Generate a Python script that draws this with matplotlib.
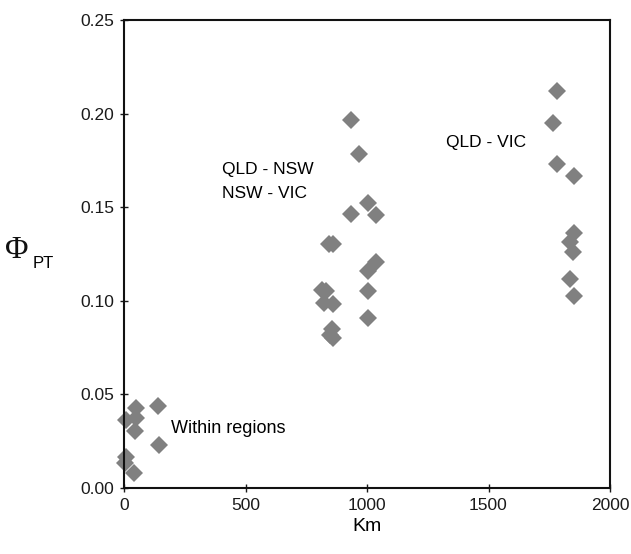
import matplotlib.pyplot as plt

# Distancia (km) vs Phi_PT entre pares de poblaciones
km_within = [10, 48, 50, 45, 8, 6, 40, 140, 142]
phi_within = [0.0363, 0.0429, 0.0374, 0.0304, 0.0167, 0.0133, 0.0082, 0.0438, 0.0230]

km_mid = [933, 966, 1004, 933, 1037, 845, 862, 1037, 1004, 1004, 1004,
          815, 830, 823, 859, 855, 848, 859]
phi_mid = [0.1966, 0.1783, 0.1524, 0.1462, 0.1458, 0.1302, 0.1305, 0.1209, 0.1161, 0.1052, 0.0906,
           0.1058, 0.1050, 0.0987, 0.0983, 0.0848, 0.0817, 0.0800]

km_far = [1780, 1764, 1780, 1852, 1852, 1835, 1849, 1835, 1852]
phi_far = [0.2122, 0.1948, 0.1731, 0.1668, 0.1360, 0.1316, 0.1262, 0.1115, 0.1026]

x_ticks = [0, 500, 1000, 1500, 2000]
y_ticks = [0.00, 0.05, 0.10, 0.15, 0.20, 0.25]

plt.rcParams['font.family'] = ['Liberation Sans', 'DejaVu Sans']

fig = plt.figure(figsize=(6.31, 5.54), dpi=100)
ax = fig.add_axes([124 / 631, 1 - 488 / 554, (610 - 124) / 631, (488 - 20) / 554])

todos_km = km_within + km_mid + km_far
todos_phi = phi_within + phi_mid + phi_far
ax.plot(todos_km, todos_phi, linestyle='none', marker='D', markersize=9,
        color='#808080', markeredgewidth=0, clip_on=False)

ax.set_xlim(0, 2000)
ax.set_ylim(0, 0.25)
ax.set_xticks(x_ticks)
ax.set_yticks(y_ticks)
ax.set_yticklabels([f'{v:.2f}' for v in y_ticks])
ax.tick_params(direction='inout', length=6, width=1, labelsize=12.5, colors='#1a1a1a', pad=4)
for s in ax.spines.values():
    s.set_linewidth(1.5)
    s.set_color('#111111')

ax.set_xlabel('Km', fontsize=14, labelpad=4)

# Phi con subindice PT, armado con dos textos
fig.text(17 / 631, 1 - 251 / 554, '\u03a6', family='Liberation Serif', fontsize=23,
         ha='center', va='center', color='#111111')
fig.text(33 / 631, 1 - 263 / 554, 'PT', fontsize=12, ha='left', va='center')

ax.text(193, 0.032, 'Within regions', fontsize=13, va='center')
ax.text(403, 0.170, 'QLD - NSW', fontsize=12.5, va='center')
ax.text(403, 0.1575, 'NSW - VIC', fontsize=12.5, va='center')
ax.text(1325, 0.1845, 'QLD - VIC', fontsize=12.5, va='center')

fig.savefig('out.png', dpi=100)
